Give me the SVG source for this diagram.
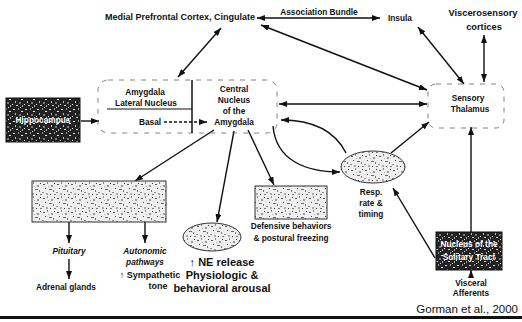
<svg xmlns="http://www.w3.org/2000/svg" width="522" height="322" viewBox="0 0 522 322">
<style>
text{font-family:"Liberation Sans",Arial,sans-serif;font-weight:bold;font-size:8.3px;fill:#111;text-anchor:middle}
.it{font-style:italic}
.big{font-size:11px}
.mid{font-size:9px}
.wt{fill:#fff}
.ln{stroke:#111;stroke-width:1.4;fill:none}
.ar{marker-end:url(#ah)}
.ar2{marker-start:url(#ah);marker-end:url(#ah)}
.dash{stroke:#666;stroke-width:0.8;stroke-dasharray:5 6;fill:none}
.lt{fill:url(#lt);stroke:#333;stroke-width:1}
.dk{fill:url(#dk);stroke:#111;stroke-width:1}
</style>
<defs>
<marker id="ah" viewBox="0 0 8 6" refX="8" refY="3" markerWidth="8" markerHeight="6" markerUnits="userSpaceOnUse" orient="auto-start-reverse">
<path d="M0,0 L8,3 L0,6 z" fill="#111"/>
</marker>
<pattern id="lt" width="14" height="14" patternUnits="userSpaceOnUse">
<rect width="14" height="14" fill="#efefef"/>
<rect x="1" y="2" width="2" height="1" fill="#555"/>
<rect x="5" y="0" width="1" height="2" fill="#888"/>
<rect x="9" y="3" width="2" height="2" fill="#999"/>
<rect x="12" y="1" width="1" height="1" fill="#333"/>
<rect x="3" y="6" width="1" height="1" fill="#444"/>
<rect x="7" y="7" width="3" height="1" fill="#666"/>
<rect x="11" y="8" width="1" height="2" fill="#777"/>
<rect x="0" y="10" width="2" height="1" fill="#888"/>
<rect x="4" y="11" width="2" height="2" fill="#aaa"/>
<rect x="8" y="12" width="1" height="1" fill="#333"/>
<rect x="12" y="12" width="2" height="1" fill="#777"/>
<rect x="6" y="4" width="1" height="1" fill="#aaa"/>
</pattern>
<pattern id="dk" width="12" height="12" patternUnits="userSpaceOnUse">
<rect width="12" height="12" fill="#222"/>
<rect x="1" y="1" width="2" height="1" fill="#ddd"/>
<rect x="6" y="0" width="1" height="2" fill="#999"/>
<rect x="9" y="3" width="2" height="1" fill="#eee"/>
<rect x="3" y="5" width="1" height="2" fill="#bbb"/>
<rect x="7" y="6" width="2" height="2" fill="#777"/>
<rect x="0" y="8" width="1" height="1" fill="#fff"/>
<rect x="4" y="9" width="2" height="1" fill="#ccc"/>
<rect x="10" y="9" width="1" height="2" fill="#aaa"/>
<rect x="8" y="11" width="1" height="1" fill="#eee"/>
</pattern>
</defs>

<g id="connectors">
<line class="ln ar2" x1="257" y1="18" x2="380" y2="18"/>
<line class="ln ar2" x1="261" y1="25" x2="427" y2="90"/>
<line class="ln ar2" x1="221" y1="28" x2="178" y2="77"/>
<line class="ln ar2" x1="418" y1="27" x2="464" y2="84"/>
<line class="ln ar2" x1="484" y1="35" x2="484" y2="82"/>
<line class="ln ar" x1="81" y1="121" x2="99" y2="121"/>
<line class="ln" x1="164" y1="122" x2="199" y2="122" stroke-dasharray="3 2"/>
<line class="ln ar" x1="199" y1="122" x2="207" y2="122"/>
<line class="ln ar2" x1="279" y1="104" x2="427" y2="104"/>
<path class="ln ar" d="M273,126 C276,160 305,172 340,172"/>
<path class="ln ar" d="M346,153 C336,133 315,120 281,120"/>
<line class="ln ar" x1="391" y1="153" x2="429" y2="122"/>
<line class="ln ar" x1="435" y1="258" x2="393" y2="188"/>
<line class="ln ar" x1="471" y1="232" x2="471" y2="127"/>
<line class="ln ar" x1="471" y1="278" x2="471" y2="270"/>
<line class="ln ar" x1="214" y1="130" x2="135" y2="181"/>
<line class="ln ar" x1="234" y1="131" x2="217" y2="222"/>
<line class="ln ar" x1="248" y1="130" x2="274" y2="185"/>
<line class="ln ar" x1="69" y1="222" x2="69" y2="243"/>
<line class="ln ar" x1="69" y1="259" x2="69" y2="279"/>
<line class="ln ar" x1="145" y1="222" x2="145" y2="243"/>
</g>

<g id="pfc"><text x="180" y="20" style="font-size:9px">Medial Prefrontal Cortex, Cingulate</text></g>
<g id="assoc"><text x="319" y="15">Association Bundle</text></g>
<g id="insula"><text x="400" y="21">Insula</text></g>
<g id="viscerosensory"><text x="483" y="16" style="font-size:9.3px">Viscerosensory</text><text x="484" y="30" style="font-size:9.3px">cortices</text></g>

<g id="amygdala">
<rect class="dash" x="98" y="80" width="179" height="53" rx="10"/>
<line x1="192" y1="80" x2="192" y2="133" stroke="#111" stroke-width="1.5"/>
<line x1="107" y1="109" x2="192" y2="109" stroke="#111" stroke-width="1.2"/>
<text x="145" y="95">Amygdala</text>
<text x="146" y="106">Lateral Nucleus</text>
<text x="150" y="125">Basal</text>
<text x="234" y="92">Central</text>
<text x="234" y="103">Nucleus</text>
<text x="234" y="114">of the</text>
<text x="234" y="125">Amygdala</text>
</g>

<g id="hippocampus">
<rect class="dk" x="6" y="98" width="74" height="44"/>
<text class="wt" x="43" y="123">Hippocampus</text>
</g>

<g id="thalamus">
<rect class="dash" x="428" y="84" width="76" height="44" rx="8"/>
<text x="468" y="101">Sensory</text>
<text x="470" y="112">Thalamus</text>
</g>

<g id="hypothalamus"><rect class="lt" x="32" y="181" width="134" height="41"/></g>
<g id="pituitary"><text class="it" x="69" y="254">Pituitary</text></g>
<g id="adrenal"><text x="66" y="290">Adrenal glands</text></g>
<g id="autonomic">
<text class="it" x="145" y="254">Autonomic</text>
<text class="it" x="145" y="265">pathways</text>
<text class="mid" x="150" y="278">↑ Sympathetic</text>
<text class="mid" x="158" y="289">tone</text>
</g>

<g id="lc">
<ellipse class="lt" cx="212" cy="237" rx="29" ry="14"/>
<text class="big" x="222" y="266">↑ NE release</text>
<text class="big" x="222" y="279">Physiologic &amp;</text>
<text class="big" x="222" y="292">behavioral arousal</text>
</g>

<g id="pag">
<rect class="lt" x="255" y="186" width="72" height="33"/>
<text x="291" y="229">Defensive behaviors</text>
<text x="291" y="241">&amp; postural freezing</text>
</g>

<g id="parabrachial">
<ellipse class="lt" cx="373" cy="167" rx="32" ry="16"/>
<text x="371" y="195">Resp.</text>
<text x="371" y="206">rate &amp;</text>
<text x="371" y="217">timing</text>
</g>

<g id="nts">
<rect class="dk" x="436" y="232" width="66" height="38"/>
<text class="wt" x="469" y="247">Nucleus of the</text>
<text class="wt" x="469" y="260">Solitary Tract</text>
</g>

<g id="visceral"><text x="471" y="286">Visceral</text><text x="471" y="296">Afferents</text></g>

<g id="citation"><text x="518" y="313" style="font-size:11.5px;font-weight:normal;text-anchor:end">Gorman et al., 2000</text></g>
<rect x="0" y="316" width="522" height="3" fill="#111"/>
</svg>
